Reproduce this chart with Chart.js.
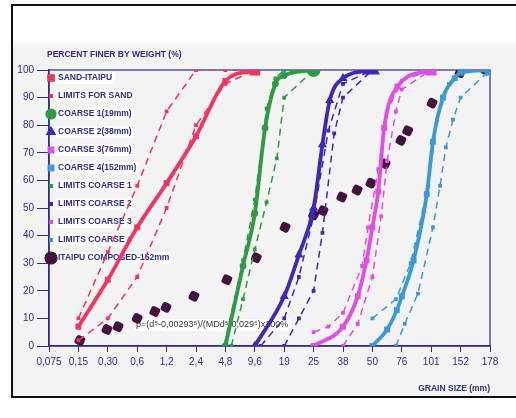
<!DOCTYPE html>
<html>
<head>
<meta charset="utf-8">
<script src="https://cdn.jsdelivr.net/npm/chart.js@4.4.1/dist/chart.umd.min.js"></script>
<style>
  html, body { margin: 0; padding: 0; background: #fff; }
  #wrap { position: relative; width: 516px; height: 418px; overflow: hidden; }
  #frame {
    position: absolute; left: 11px; top: 4px; width: 503px; height: 390px;
    border: 2px solid #111;
    background: linear-gradient(#fff 0, #fff 34px, #f3f3f3 40px, #f3f3f3 100%);
  }
  canvas { position: absolute; left: 0; top: 0; }
</style>
</head>
<body>
<div id="wrap">
  <div id="frame"></div>
  <canvas id="gradChart" width="516" height="418"></canvas>
</div>
<script>
// x positions are category indexes along the grain-size axis (0 = 0,075 ... 15 = 178)
const grainLabels = ["0,075", "0,15", "0,30", "0,6", "1,2", "2,4", "4,8", "9,6",
  "19", "25", "38", "50", "76", "101", "152", "178"];

const sandX = [1, 2, 3, 4, 5, 6, 7];
const sandY = [7, 24, 43, 59, 76, 96, 100];
const sandLimUpX = [1, 2, 3, 4, 5, 6, 7];
const sandLimUpY = [10, 34, 58, 85, 100, 100, 100];
const sandLimLowX = [1, 2, 3, 4, 5, 6, 7];
const sandLimLowY = [2, 10, 25, 50, 80, 95, 100];

const coarse1X = [6, 6.6, 7, 7.35, 7.7, 8, 9];
const coarse1Y = [0, 29, 48, 79, 95, 98, 100];
const coarse1LimUpX = [5.95, 6.6, 7, 7.4, 7.7, 8, 9];
const coarse1LimUpY = [0, 31, 53, 86, 97, 100, 100];
const coarse1LimLowX = [6.2, 6.6, 7, 7.4, 7.75, 8, 9];
const coarse1LimLowY = [0, 17, 35, 52, 68, 90, 100];

const coarse2X = [7, 8, 8.5, 9, 9.3, 9.55, 10, 11];
const coarse2Y = [0, 18, 33, 50, 73, 89, 97, 100];
const coarse2LimUpX = [7.2, 8, 8.5, 9, 9.5, 10, 11];
const coarse2LimUpY = [0, 10, 25, 47, 78, 95, 100];
const coarse2LimLowX = [8, 8.5, 9, 9.3, 9.7, 10, 11];
const coarse2LimLowY = [0, 10, 20, 41, 77, 90, 100];

const coarse3X = [9, 10, 10.5, 10.8, 11, 11.2, 11.4, 11.85, 13];
const coarse3Y = [0, 7, 18, 31, 43, 56, 79, 94, 100];
const coarse3LimUpX = [9, 9.5, 10, 10.65, 10.85, 11.2, 11.5, 12, 13];
const coarse3LimUpY = [5, 7, 12, 29, 43, 64, 85, 96, 100];
const coarse3LimLowX = [10, 10.5, 11, 11.3, 11.5, 11.8, 12, 13];
const coarse3LimLowY = [0, 8, 25, 47, 67, 85, 93, 100];

const coarse4X = [11, 11.5, 11.83, 12, 12.4, 12.85, 13.06, 13.4, 13.8, 14, 15];
const coarse4Y = [0, 6, 13, 18, 31, 55, 74, 90, 97, 99, 100];
const coarse4LimUpX = [11, 11.8, 12.3, 12.9, 13.2, 13.6, 14, 15];
const coarse4LimUpY = [10, 17, 30, 58, 82, 95, 100, 100];
const coarse4LimLowX = [11.8, 12.1, 12.55, 13.06, 13.3, 13.5, 13.74, 14, 15];
const coarse4LimLowY = [0, 8, 19, 43, 58, 72, 82, 90, 100];

const composedX = [1.05, 1.97, 2.35, 3, 3.6, 3.98, 4.93, 6.05, 7.05, 8.03, 9, 9.32,
  9.96, 10.48, 10.95, 11.43, 11.97, 12.2, 13.03, 13.98, 14.85];
const composedY = [2, 6, 7, 10, 12.5, 14, 18, 24, 32, 43, 47.5, 49,
  54, 56.5, 59, 66, 74.5, 78, 88, 99, 100];

const navy = "#2e2c8e";
const red = "#f2345f";
const green = "#2f9a46";
const blue = "#3a2ab4";
const magenta = "#e24ee2";
const cyan = "#3b9ad6";
const purple = "#45123f";

const pts = (xs, ys) => xs.map((x, i) => ({ x: x, y: ys[i] }));

// small marks along the curve, a bigger one where it reaches 100 %
const solid = (label, xs, ys, color, style, mark) => ({
  label: label,
  data: pts(xs, ys),
  borderColor: color,
  backgroundColor: color,
  borderWidth: 3.8,
  pointStyle: style,
  pointRadius: xs.map((_, i) => (i === xs.length - 1 ? 5 : 1.5)),
  cubicInterpolationMode: "monotone",
  legendMark: mark,
});

const limit = (label, xs, ys, color, mark) => ({
  label: label,
  data: pts(xs, ys),
  borderColor: color,
  backgroundColor: color,
  borderWidth: 1.5,
  borderDash: [7, 5],
  pointStyle: "rect",
  pointRadius: 1.6,
  legendMark: mark,
});

const datasets = [
  solid("SAND-ITAIPU", sandX, sandY, red, "rect", { style: "rect", r: 4.5 }),
  limit("LIMITS FOR SAND", sandLimUpX, sandLimUpY, red, { style: "rect", r: 2 }),
  limit("", sandLimLowX, sandLimLowY, red, null),
  solid("COARSE 1(19mm)", coarse1X, coarse1Y, green, "circle", { style: "circle", r: 5 }),
  solid("COARSE 2(38mm)", coarse2X, coarse2Y, blue, "triangle", { style: "triangle", r: 5 }),
  solid("COARSE 3(76mm)", coarse3X, coarse3Y, magenta, "rect", { style: "rect", r: 4 }),
  solid("COARSE 4(152mm)", coarse4X, coarse4Y, cyan, "rect", { style: "rect", r: 4 }),
  limit("LIMITS COARSE 1", coarse1LimUpX, coarse1LimUpY, green, { style: "rect", r: 2 }),
  limit("", coarse1LimLowX, coarse1LimLowY, green, null),
  limit("LIMITS COARSE 2", coarse2LimUpX, coarse2LimUpY, blue, { style: "rect", r: 2 }),
  limit("", coarse2LimLowX, coarse2LimLowY, blue, null),
  limit("LIMITS COARSE 3", coarse3LimUpX, coarse3LimUpY, magenta, { style: "rect", r: 2 }),
  limit("", coarse3LimLowX, coarse3LimLowY, magenta, null),
  limit("LIMITS COARSE 4", coarse4LimUpX, coarse4LimUpY, cyan, { style: "rect", r: 2 }),
  limit("", coarse4LimLowX, coarse4LimLowY, cyan, null),
  {
    label: "ITAIPU COMPOSED-152mm",
    data: pts(composedX, composedY),
    showLine: false,
    pointStyle: "rectRounded",
    pointRotation: 25,
    pointRadius: 5.5,
    pointBorderWidth: 0,
    backgroundColor: purple,
    borderColor: purple,
    legendMark: { style: "circle", r: 6 },
  },
];

// legend, formula and plot frame go under the curves, as in the scan
const underlay = {
  id: "underlay",
  beforeDatasetsDraw(chart) {
    const { ctx, chartArea } = chart;
    ctx.save();
    ctx.strokeStyle = navy;
    ctx.lineWidth = 1.2;
    ctx.strokeRect(chartArea.left, chartArea.top, chartArea.right - chartArea.left, chartArea.bottom - chartArea.top);

    ctx.font = "bold 8.5px 'Liberation Sans', Arial, sans-serif";
    ctx.textBaseline = "middle";
    let y = 78;
    chart.data.datasets.forEach((ds) => {
      if (!ds.legendMark) return;
      const w = ctx.measureText(ds.label).width;
      ctx.fillStyle = "#fff";
      ctx.fillRect(56, y - 6, w + 4, 12);
      ctx.fillStyle = navy;
      ctx.fillText(ds.label, 58, y);
      ctx.fillStyle = ds.backgroundColor;
      ctx.strokeStyle = ds.backgroundColor;
      Chart.helpers.drawPoint(ctx, { pointStyle: ds.legendMark.style, radius: ds.legendMark.r, borderWidth: 1 }, 51, y);
      y += 18;
    });

    const formula = "p=(d\u2075-0,00293\u2075)/(MDd\u2075-0,029\u2075)x100%";
    ctx.font = "9px 'Liberation Sans', Arial, sans-serif";
    const fw = ctx.measureText(formula).width;
    ctx.fillStyle = "#fff";
    ctx.fillRect(134, 319, fw + 4, 12);
    ctx.fillStyle = "#333";
    ctx.fillText(formula, 136, 325);
    ctx.restore();
  },
  afterDraw(chart) {
    const { ctx } = chart;
    ctx.save();
    ctx.fillStyle = navy;
    ctx.font = "bold 8.5px 'Liberation Sans', Arial, sans-serif";
    ctx.textBaseline = "middle";
    ctx.fillText("PERCENT FINER BY WEIGHT (%)", 47, 55);
    ctx.textAlign = "right";
    ctx.fillText("GRAIN SIZE (mm)", 490, 389);
    ctx.restore();
  },
};

const tickFont = { family: "'Liberation Sans', Arial, sans-serif", size: 10 };

new Chart(document.getElementById("gradChart").getContext("2d"), {
  type: "line",
  data: { datasets: datasets },
  options: {
    responsive: false,
    animation: false,
    devicePixelRatio: 1,
    layout: { padding: { top: 70, right: 26, left: 0, bottom: 0 } },
    plugins: {
      legend: { display: false },
      tooltip: { enabled: false },
    },
    elements: { line: { tension: 0 } },
    scales: {
      x: {
        type: "linear",
        min: 0,
        max: 15,
        afterFit: (s) => { s.height = 72; },
        afterBuildTicks: (s) => { s.ticks = grainLabels.map((_, i) => ({ value: i })); },
        ticks: {
          autoSkip: false,
          maxRotation: 0,
          padding: 4,
          color: navy,
          font: tickFont,
          callback: (v) => grainLabels[v],
        },
        grid: { drawOnChartArea: false, tickLength: 6, tickColor: navy },
        border: { color: navy, width: 1.5 },
      },
      y: {
        min: 0,
        max: 100,
        afterFit: (s) => { s.width = 49; },
        ticks: { stepSize: 10, padding: 3, color: navy, font: tickFont },
        grid: { drawOnChartArea: false, tickLength: 12, tickColor: navy },
        border: { color: navy, width: 1.5 },
      },
    },
  },
  plugins: [underlay],
});
</script>
</body>
</html>
